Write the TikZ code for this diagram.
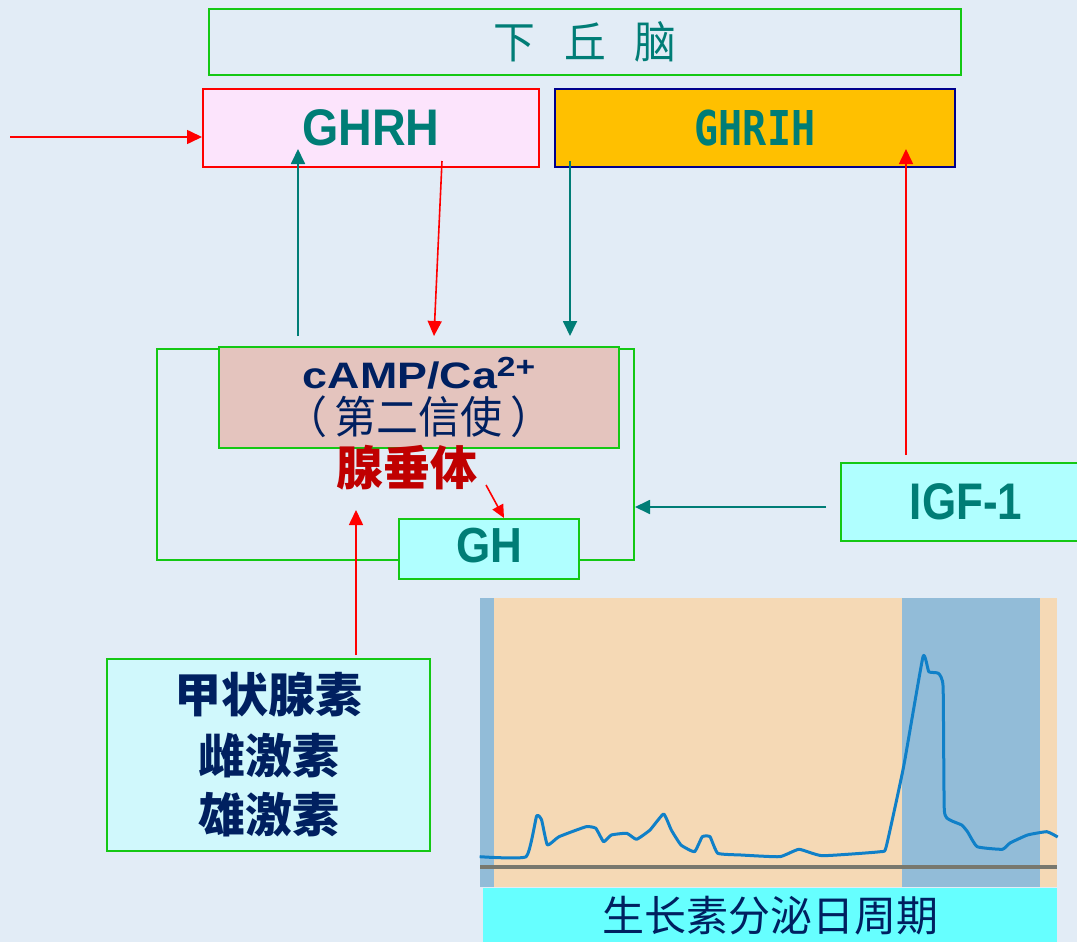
\documentclass[tikz,border=0pt]{standalone}
\usepackage{fontspec}
\setmainfont{Liberation Sans}
\newfontfamily\cjk{Noto Sans CJK SC}
\newfontfamily\mono{DejaVu Sans Mono}
\usetikzlibrary{arrows.meta}
\definecolor{bgc}{RGB}{226,236,246}
\definecolor{tealc}{RGB}{0,125,118}
\definecolor{grn}{RGB}{20,200,20}
\definecolor{pinkf}{RGB}{252,228,252}
\definecolor{orf}{RGB}{255,192,0}
\definecolor{navyb}{RGB}{0,0,140}
\definecolor{campf}{RGB}{228,196,190}
\definecolor{navyt}{RGB}{0,32,96}
\definecolor{darkred}{RGB}{192,0,0}
\definecolor{ghf}{RGB}{176,255,255}
\definecolor{horf}{RGB}{208,248,252}
\definecolor{beige}{RGB}{245,217,181}
\definecolor{strip}{RGB}{146,188,216}
\definecolor{curve}{RGB}{16,128,200}
\definecolor{basel}{RGB}{120,120,110}
\definecolor{capf}{RGB}{102,255,255}
\newcommand{\fs}[1]{\fontsize{#1}{#1}\selectfont}
\tikzset{
  box/.style={draw, line width=2pt, inner sep=0pt, anchor=north west},
  redarr/.style={draw=red, line width=1.6pt, -{Triangle[length=15pt,width=14pt]}},
  tealarr/.style={draw=tealc, line width=1.8pt, -{Triangle[length=15pt,width=14pt]}},
}
\begin{document}
\begin{tikzpicture}[x=1pt,y=-1pt]
\clip (0,0) rectangle (1077,942);
\fill[bgc] (0,0) rectangle (1077,942);

% hypothalamus
\node[box, draw=grn, minimum width=752pt, minimum height=66pt] (hyp) at (208,8)
  {\cjk\fs{44}\color{tealc}\scalebox{0.95}[1]{下\hspace{30pt}丘\hspace{30pt}脑}};
% GHRH
\node[box, draw=red, fill=pinkf, minimum width=336pt, minimum height=78pt] (ghrh) at (202,88)
  {\fs{44}\bfseries\color{tealc}\scalebox{1.06}[1.17]{GHRH}};
% GHRIH
\node[box, draw=navyb, fill=orf, minimum width=400pt, minimum height=78pt] (ghrih) at (554,88)
  {\mono\bfseries\fs{40}\color{tealc}\raisebox{-3pt}{\scalebox{1}[1.2]{GHRIH}}};

% pituitary outer box
\node[box, draw=grn, minimum width=477pt, minimum height=211pt] (pit) at (156,348) {};
% cAMP box
\node[box, draw=grn, fill=campf, minimum width=400pt, minimum height=101pt, align=center] (camp) at (218,346)
  {\color{navyt}\fs{40}\bfseries\scalebox{1.12}[0.92]{cAMP/Ca\raisebox{13pt}{\fs{30}2+}}\\[5pt]
   \color{navyt}\cjk\fs{42}\scalebox{1}[1.05]{（\hspace{8pt}第二信使\hspace{8pt}）}};
% label
\node[inner sep=0pt] (xct) at (407,468) {\cjk\bfseries\fs{47}\color{darkred}腺垂体};
% GH
\node[box, draw=grn, fill=ghf, minimum width=180pt, minimum height=60pt] (gh) at (398,518)
  {\fs{44}\bfseries\color{tealc}\raisebox{8pt}{\scalebox{1}[1.12]{GH}}};
% IGF-1
\node[box, draw=grn, fill=ghf, minimum width=250pt, minimum height=78pt] (igf) at (840,462)
  {\fs{44}\bfseries\color{tealc}\scalebox{1}[1.17]{IGF-1}\hspace{31pt}};
% hormones
\node[box, draw=grn, fill=horf, minimum width=323pt, minimum height=192pt, align=center] (hor) at (106,658)
  {\cjk\bfseries\fs{47}\color{navyt}甲状腺素\\[14pt]\cjk\bfseries\fs{47}\color{navyt}雌激素\\[14pt]\cjk\bfseries\fs{47}\color{navyt}雄激素};

% chart
\fill[beige] (480,598) rectangle (1057,887);
\fill[strip] (480,598) rectangle (494,887);
\fill[strip] (902,598) rectangle (1040,887);
\fill[basel] (480,865) rectangle (1057,869);
\draw[curve, line width=3pt, line join=round] plot[smooth, tension=0.25] coordinates {
 (479.7,856.7) (526.1,856.7) (536.6,816) (541.6,820) (547.4,845) (559,836.7)
 (586.1,826.7) (595.8,828.3) (603.6,841.7) (611.3,835) (626.8,833.3) (636.5,839.3)
 (650,830) (663.6,814) (671.3,830) (681,845) (694.5,851.7) (702.3,836.7) (710,836.7)
 (717.8,853.3) (741,855) (779.7,856.7) (799,849.3) (822.3,855.7) (880.4,851.7)
 (886.2,846.7) (903.6,766.7) (923,656.7) (928.8,671.7) (938.4,673.3) (943.1,686.7)
 (944.3,810) (950,820) (961.7,825) (967.5,831.7) (977.2,846.7) (1002.3,849.3)
 (1010,843) (1027.5,835) (1046.8,831.7) (1057.7,837)};
\node[box, draw=none, fill=capf, minimum width=574pt, minimum height=55pt] (cap) at (482,887)
  {\cjk\fs{42}\color{navyt}生长素分泌日周期};

% connectors
\coordinate (ext) at (10,137);
\draw[redarr] (ext) -- (ext -| ghrh.west);
\coordinate (a1s) at (298,336); \coordinate (a1t) at (298,149);
\draw[tealarr] (a1s) -- (a1t);
\coordinate (a2s) at (442,161); \coordinate (a2t) at (434,336);
\draw[redarr] (a2s) -- (a2t);
\coordinate (a3s) at (570,161); \coordinate (a3t) at (570,336);
\draw[tealarr] (a3s) -- (a3t);
\coordinate (a4s) at (906,455); \coordinate (a4t) at (906,149);
\draw[redarr] (a4s) -- (a4t);
\coordinate (a5s) at (486,485); \coordinate (a5t) at (504,518);
\draw[redarr, -{Triangle[length=13pt,width=12pt]}] (a5s) -- (a5t);
\coordinate (a6s) at (356,655); \coordinate (a6t) at (356,510);
\draw[redarr] (a6s) -- (a6t);
\coordinate (a7s) at (826,507);
\draw[tealarr] (a7s) -- (a7s -| pit.east);
\end{tikzpicture}
\end{document}
